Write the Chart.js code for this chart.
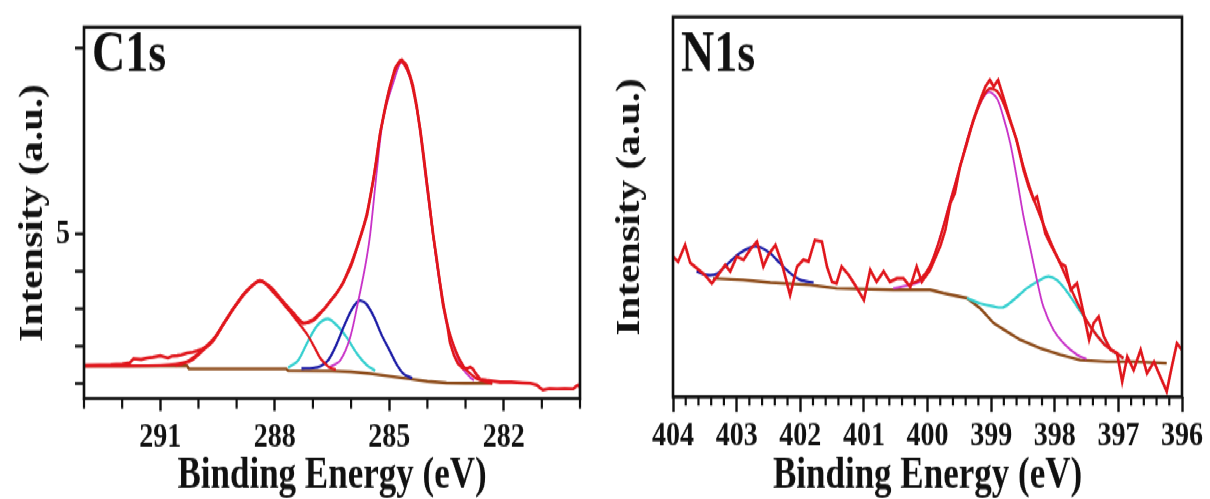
<!DOCTYPE html>
<html>
<head>
  <title>XPS C1s / N1s</title>
  <meta charset="utf-8">
  <script src="https://cdn.jsdelivr.net/npm/chart.js@4.4.1/dist/chart.umd.min.js"></script>
  <style>
    html, body { margin: 0; background: #fff; }
    #page { width: 1210px; height: 499px; overflow: hidden; }
    /* figure is drawn short and stretched tall, like the printed plot */
    #figure {
      width: 1210px;
      height: 400px;
      display: flex;
      transform: scaleY(1.2475);
      transform-origin: 0 0;
    }
    .panel { position: relative; width: 605px; height: 400px; }
  </style>
</head>
<body>
  <div id="page">
    <div id="figure">
      <div class="panel"><canvas id="c1s"></canvas></div>
      <div class="panel"><canvas id="n1s"></canvas></div>
    </div>
  </div>
<script>
  // ---- C1s spectrum, [binding energy eV, intensity a.u.] ----
  var c1sRaw = [[293.0,1.48],[292.6,1.49],[292.3,1.50],[292.0,1.52],[291.8,1.55],[291.7,1.66],[291.5,1.64],[291.35,1.68],
    [291.2,1.70],[291.0,1.74],[290.9,1.71],[290.8,1.68],[290.7,1.73],[290.56,1.74],[290.45,1.76],[290.3,1.81],[290.15,1.84],
    [290.04,1.87],[289.9,1.92],[289.75,2.0],[289.62,2.13],[289.5,2.32],[289.36,2.57],[289.2,2.82],[289.1,2.99],[288.95,3.2],
    [288.83,3.38],[288.7,3.52],[288.57,3.64],[288.45,3.73],[288.39,3.75],[288.3,3.72],[288.2,3.64],[288.05,3.46],[287.86,3.25],
    [287.7,3.05],[287.52,2.86],[287.4,2.72],[287.26,2.6],[287.15,2.63],[287.0,2.70],[286.85,2.85],[286.7,3.0],[286.55,3.2],
    [286.4,3.38],[286.21,3.69],[286.0,4.2],[285.84,4.66],[285.7,5.1],[285.58,5.52],[285.42,6.45],[285.33,7.0],[285.24,7.7],
    [285.1,8.4],[284.98,8.95],[284.85,9.45],[284.72,9.66],[284.67,9.68],[284.55,9.55],[284.45,9.25],[284.38,9.0],[284.28,8.45],
    [284.19,7.8],[284.1,7.05],[284.01,6.31],[283.93,5.65],[283.85,5.0],[283.75,4.3],[283.67,3.69],[283.59,3.1],[283.48,2.57],
    [283.41,2.1],[283.3,1.75],[283.2,1.53],[283.07,1.40],[282.95,1.40],[282.88,1.44],[282.8,1.38],[282.75,1.29],[282.62,1.11],
    [282.45,1.08],[282.28,1.06],[282.1,1.03],[281.8,1.03],[281.5,1.01],[281.3,1.0],[281.13,0.95],[281.05,0.88],[280.97,0.82],
    [280.8,0.86],[280.6,0.85],[280.4,0.86],[280.18,0.85],[280.1,0.92],[280.05,0.95],[280.0,0.90]];
  var c1sEnvelope = [[293,1.47],[292,1.47],[291,1.48],[290.6,1.51],[290.3,1.58],[290.1,1.72],[289.9,1.9],[289.6,2.2],
    [289.3,2.67],[289,3.14],[288.7,3.52],[288.4,3.76],[288.1,3.58],[287.8,3.22],[287.5,2.88],[287.26,2.63],[287.0,2.68],
    [286.8,2.88],[286.55,3.2],[286.3,3.55],[286.0,4.15],[285.8,4.8],[285.6,5.5],[285.42,6.45],[285.24,7.7],[285.0,8.9],
    [284.8,9.5],[284.67,9.64],[284.45,9.2],[284.2,7.9],[284.0,6.3],[283.85,5.0],[283.67,3.7],[283.48,2.6],[283.25,1.85],
    [283.05,1.45],[282.9,1.28],[282.7,1.12],[282.5,1.05],[282.3,1.0]];
  var c1sPeakOCO = [[290.6,1.47],[290.2,1.6],[289.9,1.86],[289.6,2.18],[289.3,2.65],[289.0,3.12],[288.7,3.5],[288.4,3.74],
    [288.1,3.55],[287.8,3.18],[287.5,2.78],[287.15,2.31],[286.95,1.95],[286.81,1.68],[286.65,1.5],[286.55,1.42],[286.4,1.37]];
  var c1sPeakCO = [[287.65,1.42],[287.39,1.61],[287.13,2.13],[286.87,2.57],[286.6,2.73],[286.34,2.52],[286.1,2.21],
    [285.84,1.79],[285.58,1.48],[285.37,1.34]];
  var c1sPeakCN = [[287.3,1.40],[287.0,1.41],[286.8,1.46],[286.6,1.62],[286.4,2.0],[286.2,2.5],[286.0,2.95],[285.85,3.17],
    [285.75,3.22],[285.6,3.13],[285.4,2.78],[285.2,2.3],[285.0,1.9],[284.8,1.5],[284.6,1.23],[284.4,1.14]];
  var c1sPeakCC = [[286.6,1.42],[286.29,1.61],[286.03,2.21],[285.82,3.17],[285.63,4.14],[285.5,5.0],[285.32,6.75],
    [285.16,8.1],[284.9,9.05],[284.67,9.62],[284.38,8.95],[284.19,7.76],[284.01,6.25],[283.85,4.95],[283.67,3.62],
    [283.48,2.52],[283.27,1.87],[283.09,1.42],[282.88,1.16],[282.78,1.08]];
  var c1sBackground = [[293,1.47],[290.3,1.47],[290.25,1.39],[287.7,1.39],[287.65,1.34],[286.5,1.33],[286.0,1.31],
    [285.5,1.26],[285.0,1.19],[284.5,1.12],[284.0,1.05],[283.5,1.01],[283.0,1.0],[282.3,1.0]];

  // ---- N1s spectrum ----
  var n1sRaw = [[404.0,3.69],[403.92,3.56],[403.81,4.0],[403.73,3.53],[403.63,3.39],[403.5,3.21],[403.39,2.99],[403.29,3.21],
    [403.18,3.47],[403.1,3.30],[403.0,3.69],[402.89,3.61],[402.79,3.87],[402.68,4.09],[402.58,3.43],[402.5,3.74],[402.39,4.0],
    [402.29,3.52],[402.16,2.68],[402.05,3.43],[401.95,3.61],[401.87,3.56],[401.77,4.13],[401.66,4.09],[401.58,3.43],
    [401.5,3.03],[401.43,2.99],[401.35,3.43],[401.24,3.21],[401.14,2.95],[401.0,2.55],[400.9,3.34],[400.8,3.03],[400.69,3.30],
    [400.59,3.03],[400.48,3.12],[400.38,3.12],[400.27,2.90],[400.17,3.43],[400.09,3.03],[399.96,3.34],[399.8,3.96],
    [399.72,4.39],[399.64,5.10],[399.57,5.36],[399.49,6.06],[399.38,6.68],[399.28,7.29],[399.17,7.82],[399.09,8.17],
    [399.02,8.34],[398.96,8.17],[398.89,8.34],[398.81,7.90],[398.7,7.29],[398.6,6.76],[398.49,5.97],[398.41,5.53],
    [398.33,5.18],[398.28,5.27],[398.23,4.92],[398.15,4.31],[398.05,3.96],[397.91,3.52],[397.83,3.43],[397.75,2.82],
    [397.65,2.99],[397.57,2.38],[397.46,1.5],[397.39,1.94],[397.31,2.11],[397.23,1.59],[397.12,1.24],[397.02,1.15],
    [396.94,0.40],[396.86,1.06],[396.76,0.71],[396.65,1.24],[396.55,0.62],[396.44,0.93],[396.34,0.53],[396.24,0.14],
    [396.16,0.8],[396.08,1.41],[396.0,1.24]];
  var n1sEnvelope = [[400.3,2.95],[400.11,3.1],[399.96,3.45],[399.8,4.2],[399.64,5.15],[399.49,6.05],[399.33,7.0],
    [399.17,7.75],[399.04,8.1],[398.91,8.05],[398.81,7.75],[398.7,7.25],[398.6,6.75],[398.49,6.05],[398.38,5.45],
    [398.28,4.98],[398.18,4.55],[398.02,3.9],[397.86,3.3],[397.65,2.5],[397.44,1.85],[397.23,1.4],[397.07,1.2],[396.92,1.02]];
  var n1sPeakOxidized = [[403.63,3.30],[403.47,3.21],[403.31,3.24],[403.16,3.47],[402.95,3.78],[402.74,3.96],[402.63,3.94],
    [402.47,3.78],[402.32,3.52],[402.16,3.26],[402.0,3.08],[401.79,3.01]];
  var n1sPeakPyrrolic = [[400.54,2.86],[400.27,2.95],[400.11,3.05],[399.96,3.43],[399.8,4.22],[399.64,5.18],[399.49,6.06],
    [399.33,7.03],[399.17,7.73],[399.04,8.03],[398.91,7.86],[398.81,7.38],[398.7,6.68],[398.6,5.8],[398.49,4.74],
    [398.38,3.87],[398.28,3.08],[398.18,2.38],[398.02,1.76],[397.86,1.41],[397.65,1.11],[397.5,1.0]];
  var n1sPeakPyridinic = [[399.38,2.6],[399.17,2.46],[398.96,2.38],[398.81,2.36],[398.65,2.55],[398.44,2.86],[398.23,3.08],
    [398.1,3.17],[397.97,3.08],[397.83,2.82],[397.65,2.38],[397.44,1.85],[397.23,1.41],[397.07,1.19],[396.92,1.02]];
  var n1sBackground = [[403.37,3.12],[402.9,3.08],[402.47,3.01],[401.85,2.95],[401.43,2.86],[400.54,2.82],[399.96,2.82],
    [399.75,2.73],[399.38,2.6],[399.17,2.33],[398.96,1.94],[398.75,1.72],[398.54,1.5],[398.23,1.28],[397.91,1.11],
    [397.6,0.97],[397.18,0.93],[396.76,0.93],[396.24,0.89]];

  // ---- axes ----
  var c1sTickLabels = [291, 288, 285, 282];
  var c1sMinorTicks = [293, 292, 290, 289, 287, 286, 284, 283, 281, 280];
  var c1sYTicks = [1, 2, 3, 4, 5, 10];
  var n1sTickLabels = [404, 403, 402, 401, 400, 399, 398, 397, 396];
  var n1sMinorTicks = [];
  for (var i = 0; i <= 40; i++) {
    if (i % 5) n1sMinorTicks.push(396 + i * 0.2);
  }

  var FONT = '"Liberation Serif", "Times New Roman", serif';
  var INK = '#111';
  var COLOR = { red: '#e0161c', magenta: '#c832c8', blue: '#1c1ca6', cyan: '#34cfcf', brown: '#8c4a18' };

  function line(points, color, width, tension) {
    return {
      data: points.map(function(p) { return { x: p[0], y: p[1] }; }),
      borderColor: color,
      borderWidth: width,
      pointRadius: 0,
      fill: false,
      tension: tension || 0
    };
  }

  // box around the plot, minor x ticks and the panel name
  var frame = {
    id: 'frame',
    afterDraw: function(chart, args, opts) {
      var ctx = chart.ctx, a = chart.chartArea, x = chart.scales.x;
      ctx.save();
      ctx.strokeStyle = INK;
      ctx.lineWidth = 2.6;
      ctx.strokeRect(a.left, a.top, a.right - a.left, a.bottom - a.top);
      ctx.lineWidth = 2.2;
      opts.minor.forEach(function(v) {
        var px = x.getPixelForValue(v);
        ctx.beginPath();
        ctx.moveTo(px, a.bottom);
        ctx.lineTo(px, a.bottom + opts.minorLength);
        ctx.stroke();
      });
      ctx.fillStyle = INK;
      ctx.font = 'bold 46px ' + FONT;
      ctx.textBaseline = 'alphabetic';
      ctx.fillText(opts.label, a.left + 8, 57);
      ctx.restore();
    }
  };

  function panel(id, cfg) {
    return new Chart(document.getElementById(id), {
      type: 'line',
      data: { datasets: cfg.datasets },
      plugins: [frame],
      options: {
        responsive: true,
        maintainAspectRatio: false,
        animation: false,
        layout: { padding: { left: 0, right: cfg.padRight, top: 13.6, bottom: 0 } },
        plugins: {
          legend: { display: false },
          tooltip: { enabled: false },
          frame: { label: cfg.label, minor: cfg.minor, minorLength: cfg.minorLength }
        },
        scales: {
          x: {
            type: 'linear',
            reverse: true,
            min: cfg.xMin,
            max: cfg.xMax,
            afterBuildTicks: function(s) { s.ticks = cfg.xTicks.map(function(v) { return { value: v }; }); },
            afterFit: function(s) { s.height = cfg.xHeight; },
            ticks: {
              autoSkip: false, maxRotation: 0, padding: cfg.xPad, color: INK,
              font: { family: FONT, size: 28, weight: 'bold' },
              callback: function(v) { return String(Math.round(v)); }
            },
            grid: { drawOnChartArea: false, tickLength: cfg.majorLength, tickWidth: 2.4, color: INK },
            border: { display: false },
            title: {
              display: true, text: 'Binding Energy (eV)', color: INK, padding: { top: 0, bottom: 1 },
              font: { family: FONT, size: 35, weight: 'bold', lineHeight: 1 }
            }
          },
          y: {
            type: 'linear',
            min: cfg.yMin,
            max: cfg.yMax,
            afterBuildTicks: function(s) { s.ticks = cfg.yTicks.map(function(v) { return { value: v }; }); },
            afterFit: function(s) { s.width = cfg.yWidth; },
            ticks: {
              display: cfg.yTicks.length > 0, padding: 5, color: INK,
              font: { family: FONT, size: 28, weight: 'bold' },
              callback: function(v) { return v === 5 ? '5' : ''; }
            },
            grid: { display: cfg.yTicks.length > 0, drawOnChartArea: false, tickLength: 9, tickWidth: 2.4, color: INK },
            border: { display: false },
            title: {
              display: true, text: 'Intensity (a.u.)', color: INK, padding: { top: cfg.yTitlePad, bottom: 0 },
              font: { family: FONT, size: 33, weight: 'bold', lineHeight: 1 }
            }
          }
        }
      }
    });
  }

  panel('c1s', {
    label: 'C1s',
    xMin: 280, xMax: 293, xTicks: c1sTickLabels, minor: c1sMinorTicks,
    majorLength: 10, minorLength: 8, xHeight: 80.5, xPad: 4,
    yMin: 0.59, yMax: 10.56, yTicks: c1sYTicks, yWidth: 84, yTitlePad: 17,
    padRight: 25,
    datasets: [
      line(c1sRaw, COLOR.red, 2.6),
      line(c1sEnvelope, COLOR.red, 2.4, 0.3),
      line(c1sPeakOCO, COLOR.red, 2.2, 0.3),
      line(c1sPeakCC, COLOR.magenta, 1.8, 0.3),
      line(c1sPeakCN, COLOR.blue, 2.2, 0.3),
      line(c1sPeakCO, COLOR.cyan, 2.2, 0.3),
      line(c1sBackground, COLOR.brown, 2.4)
    ]
  });

  panel('n1s', {
    label: 'N1s',
    xMin: 396, xMax: 404, xTicks: n1sTickLabels, minor: n1sMinorTicks,
    majorLength: 12, minorLength: 7, xHeight: 81.8, xPad: 3,
    yMin: 0, yMax: 10, yTicks: [], yWidth: 68, yTitlePad: 9,
    padRight: 28,
    datasets: [
      line(n1sRaw, COLOR.red, 2.6),
      line(n1sEnvelope, COLOR.red, 2.4, 0.3),
      line(n1sPeakPyrrolic, COLOR.magenta, 1.8, 0.3),
      line(n1sPeakOxidized, COLOR.blue, 2.2, 0.3),
      line(n1sPeakPyridinic, COLOR.cyan, 2.2, 0.3),
      line(n1sBackground, COLOR.brown, 2.4)
    ]
  });
</script>
</body>
</html>
